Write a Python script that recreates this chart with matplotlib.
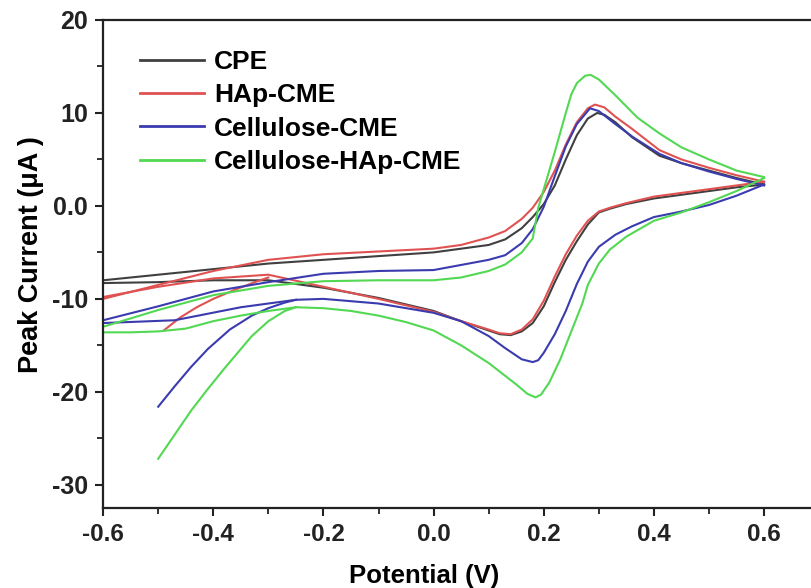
import numpy as np
import matplotlib.pyplot as plt
from matplotlib.ticker import MultipleLocator

# ---------------------------------------------------------------
# Cyclic voltammograms (potential V, current uA)
# each electrode: forward sweep, reverse sweep, optional start transient
# ---------------------------------------------------------------
cpe_fwd_v = [-0.6, -0.5, -0.4, -0.3, -0.2, -0.1, 0.0, 0.05, 0.1, 0.13, 0.16, 0.18,
             0.2, 0.22, 0.24, 0.26, 0.28, 0.297, 0.31, 0.33, 0.36, 0.41, 0.45, 0.5, 0.55, 0.6]
cpe_fwd_i = [-8.0, -7.4, -6.8, -6.2, -5.8, -5.4, -5.0, -4.6, -4.2, -3.6, -2.4, -1.2,
             0.2, 2.2, 5.0, 7.6, 9.4, 10.0, 9.8, 9.0, 7.4, 5.4, 4.6, 3.8, 3.0, 2.3]
cpe_rev_v = [0.6, 0.55, 0.5, 0.45, 0.4, 0.35, 0.32, 0.3, 0.28, 0.26, 0.24, 0.22, 0.2,
             0.18, 0.16, 0.14, 0.12, 0.1, 0.05, 0.0, -0.1, -0.2, -0.3, -0.4, -0.5, -0.6]
cpe_rev_i = [2.3, 2.0, 1.6, 1.2, 0.8, 0.2, -0.3, -0.7, -2.0, -3.8, -5.8, -8.2, -10.8,
             -12.6, -13.5, -13.9, -13.8, -13.4, -12.4, -11.3, -9.9, -8.8, -8.0, -8.0, -8.2, -8.3]

hap_fwd_v = [-0.6, -0.5, -0.4, -0.3, -0.2, -0.1, 0.0, 0.05, 0.1, 0.13, 0.16, 0.18, 0.2,
             0.22, 0.24, 0.26, 0.28, 0.293, 0.31, 0.33, 0.36, 0.41, 0.45, 0.5, 0.55, 0.6]
hap_fwd_i = [-10.0, -8.5, -7.0, -5.8, -5.2, -4.9, -4.6, -4.2, -3.4, -2.7, -1.4, -0.2, 1.5,
             3.8, 6.6, 9.0, 10.5, 10.9, 10.6, 9.6, 8.3, 6.0, 5.0, 4.1, 3.3, 2.6]
hap_rev_v = [0.6, 0.55, 0.5, 0.45, 0.4, 0.35, 0.32, 0.3, 0.28, 0.26, 0.24, 0.22, 0.2,
             0.18, 0.16, 0.14, 0.12, 0.1, 0.05, 0.0, -0.1, -0.2, -0.3, -0.4, -0.5, -0.6]
hap_rev_i = [2.6, 2.2, 1.8, 1.4, 1.0, 0.3, -0.2, -0.6, -1.6, -3.2, -5.2, -7.6, -10.2,
             -12.2, -13.3, -13.8, -13.7, -13.3, -12.4, -11.4, -10.0, -8.7, -7.4, -7.8, -8.7, -9.8]
hap_start_v = [-0.49, -0.46, -0.43, -0.4, -0.36, -0.32, -0.3]
hap_start_i = [-13.4, -12.0, -10.9, -10.0, -9.0, -8.1, -7.7]

cel_fwd_v = [-0.6, -0.5, -0.4, -0.3, -0.2, -0.1, 0.0, 0.1, 0.13, 0.16, 0.18, 0.2, 0.22,
             0.24, 0.26, 0.284, 0.3, 0.33, 0.362, 0.41, 0.45, 0.5, 0.55, 0.6]
cel_fwd_i = [-12.3, -10.8, -9.2, -8.2, -7.3, -7.0, -6.9, -5.8, -5.3, -4.0, -2.5, -0.1, 3.2,
             6.4, 8.8, 10.5, 10.2, 8.8, 7.4, 5.6, 4.6, 3.7, 2.9, 2.2]
cel_rev_v = [0.6, 0.55, 0.5, 0.45, 0.4, 0.36, 0.34, 0.33, 0.3, 0.28, 0.26, 0.24, 0.22,
             0.2, 0.19, 0.18, 0.16, 0.13, 0.1, 0.05, 0.0, -0.1, -0.2, -0.25, -0.35, -0.47, -0.6]
cel_rev_i = [2.3, 1.1, 0.1, -0.6, -1.2, -2.2, -2.8, -3.1, -4.4, -6.0, -8.4, -11.3, -13.8,
             -15.8, -16.6, -16.8, -16.5, -15.3, -14.0, -12.4, -11.5, -10.5, -10.0, -10.1, -10.9, -12.3, -12.6]
cel_start_v = [-0.5, -0.47, -0.44, -0.41, -0.37, -0.33, -0.3, -0.27, -0.25]
cel_start_i = [-21.6, -19.4, -17.3, -15.4, -13.3, -11.8, -11.0, -10.4, -10.1]

chap_fwd_v = [-0.6, -0.5, -0.4, -0.3, -0.2, -0.1, 0.0, 0.05, 0.1, 0.13, 0.16, 0.18, 0.19,
              0.2, 0.22, 0.24, 0.25, 0.26, 0.275, 0.285, 0.3, 0.33, 0.37, 0.41, 0.45, 0.5, 0.55, 0.6]
chap_fwd_i = [-13.0, -11.2, -9.6, -8.6, -8.1, -8.0, -8.0, -7.7, -7.0, -6.3, -5.0, -3.5, -0.2,
              1.8, 5.8, 10.0, 12.0, 13.2, 14.0, 14.1, 13.6, 11.9, 9.5, 7.8, 6.3, 5.0, 3.8, 3.1]
chap_rev_v = [0.6, 0.55, 0.5, 0.45, 0.4, 0.35, 0.32, 0.3, 0.28, 0.27, 0.25, 0.23, 0.21, 0.195,
              0.185, 0.17, 0.15, 0.1, 0.05, 0.0, -0.05, -0.1, -0.15, -0.2, -0.25, -0.3, -0.35,
              -0.4, -0.45, -0.5, -0.55, -0.6]
chap_rev_i = [3.0, 1.6, 0.4, -0.7, -1.6, -3.3, -4.7, -6.2, -8.5, -10.5, -13.5, -16.5, -19.0, -20.3,
              -20.6, -20.2, -19.2, -16.9, -15.0, -13.4, -12.5, -11.8, -11.3, -11.0, -10.9, -11.3, -11.8,
              -12.4, -13.2, -13.5, -13.6, -13.6]
chap_start_v = [-0.5, -0.47, -0.44, -0.41, -0.38, -0.35, -0.33, -0.3, -0.27, -0.25]
chap_start_i = [-27.2, -24.6, -22.0, -19.7, -17.5, -15.4, -14.0, -12.4, -11.3, -10.9]

labels = ['CPE', 'HAp-CME', 'Cellulose-CME', 'Cellulose-HAp-CME']
colors = ['#404040', '#e05252', '#3b3bb0', '#52d852']

curves = [
    [(cpe_fwd_v, cpe_fwd_i), (cpe_rev_v, cpe_rev_i)],
    [(hap_fwd_v, hap_fwd_i), (hap_rev_v, hap_rev_i), (hap_start_v, hap_start_i)],
    [(cel_fwd_v, cel_fwd_i), (cel_rev_v, cel_rev_i), (cel_start_v, cel_start_i)],
    [(chap_fwd_v, chap_fwd_i), (chap_rev_v, chap_rev_i), (chap_start_v, chap_start_i)],
]

plt.rcParams['font.family'] = ['Liberation Sans', 'DejaVu Sans']
plt.rcParams['font.weight'] = 'bold'

fig = plt.figure(figsize=(8.12, 5.88), dpi=100)
ax = fig.add_axes([0.127, 0.136, 0.873, 0.830])

for segs, lab, col in zip(curves, labels, colors):
    for k, (v, i) in enumerate(segs):
        ax.plot(v, i, color=col, linewidth=1.5, label=lab if k == 0 else None)

ax.set_xlim(-0.6, 0.687)
ax.set_ylim(-32.5, 20)
ax.xaxis.set_minor_locator(MultipleLocator(0.1))
ax.yaxis.set_minor_locator(MultipleLocator(5))
ax.set_xticks([-0.6, -0.4, -0.2, 0.0, 0.2, 0.4, 0.6])
ax.set_xticklabels(['-0.6', '-0.4', '-0.2', '0.0', '0.2', '0.4', '0.6'])
ax.set_yticks([20, 10, 0, -10, -20, -30])
ax.set_yticklabels(['20', '10', '0.0', '-10', '-20', '-30'])

ax.spines['right'].set_visible(False)
for s in ['left', 'bottom', 'top']:
    ax.spines[s].set_linewidth(1.6)
    ax.spines[s].set_color('#222222')
ax.tick_params(which='major', direction='out', length=6, width=1.5, colors='#222222')
ax.tick_params(which='minor', direction='out', length=4, width=1.3, colors='#222222')
ax.tick_params(axis='x', which='both', top=False)
ax.tick_params(axis='y', labelsize=18, pad=5)
ax.tick_params(axis='x', labelsize=17.5, pad=5)

ax.set_ylabel('Peak Current (\u03bcA )', fontsize=19.5, fontweight='bold')
ax.yaxis.set_label_coords(-0.084, 0.52)
ax.set_xlabel('Potential (V)', fontsize=18.5, fontweight='bold')
ax.xaxis.set_label_coords(0.453, -0.115)

leg = ax.legend(loc='upper left', bbox_to_anchor=(0.018, 0.987), frameon=False,
                fontsize=19, handlelength=2.45, handletextpad=0.38, labelspacing=0.35)
for line in leg.get_lines():
    line.set_linewidth(2.0)

fig.savefig('out.png', dpi=100)
